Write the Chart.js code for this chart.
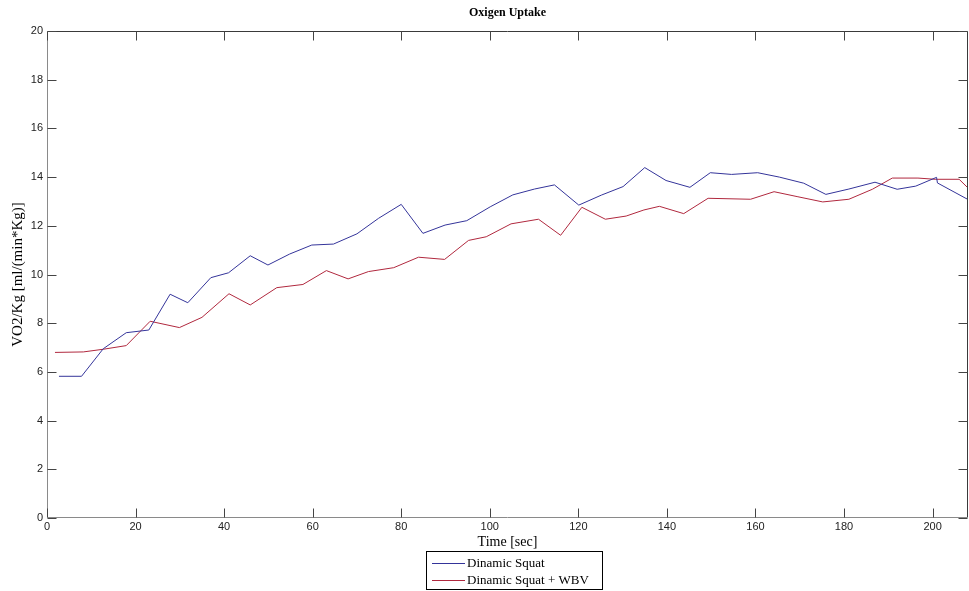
<!DOCTYPE html>
<html>
<head>
<meta charset="utf-8">
<title>Oxigen Uptake</title>
<script src="https://cdn.jsdelivr.net/npm/chart.js@4.4.1/dist/chart.umd.min.js"></script>
<style>
  html, body { margin: 0; padding: 0; background: #fff; }
  canvas { display: block; }
</style>
</head>
<body>
<canvas id="c" width="969" height="591"></canvas>
<script>
// Time [sec] / VO2 per kg samples, one array pair per test condition
const squatTime = [2.7, 7.8, 12.7, 17.9, 23.0, 27.8, 31.8, 37.0, 41.0, 45.9, 49.9, 54.8, 59.8, 64.7, 70.0,
  74.9, 80.0, 84.9, 89.9, 94.8, 100.1, 105.2, 110.1, 114.6, 120.1, 125.2, 130.1, 135.0, 139.8, 145.2,
  149.8, 154.6, 160.5, 165.4, 170.9, 175.9, 181.1, 187.0, 192.0, 196.2, 200.9, 201.1, 208.2];
const squatVO2 = [5.82, 5.82, 6.95, 7.61, 7.72, 9.19, 8.84, 9.87, 10.07, 10.77, 10.39, 10.84, 11.21, 11.25, 11.67,
  12.31, 12.88, 11.69, 12.03, 12.21, 12.78, 13.27, 13.51, 13.68, 12.85, 13.26, 13.61, 14.39, 13.86, 13.58,
  14.18, 14.11, 14.18, 14.00, 13.75, 13.29, 13.51, 13.79, 13.50, 13.63, 13.99, 13.76, 13.06];

const wbvTime = [1.8, 8.2, 12.7, 17.9, 23.3, 29.9, 35.0, 41.1, 45.9, 51.9, 57.8, 63.1, 68.0, 72.6, 78.3,
  83.9, 89.8, 95.2, 99.2, 104.8, 111.0, 116.0, 120.8, 126.1, 130.8, 134.8, 138.3, 143.8, 149.3, 158.9,
  164.2, 169.4, 175.2, 181.1, 186.4, 190.9, 196.7, 200.6, 206.0, 208.3];
const wbvVO2 = [6.80, 6.82, 6.93, 7.08, 8.08, 7.82, 8.24, 9.21, 8.75, 9.46, 9.59, 10.16, 9.82, 10.12, 10.28,
  10.71, 10.62, 11.40, 11.55, 12.08, 12.27, 11.61, 12.76, 12.27, 12.40, 12.65, 12.80, 12.50, 13.13, 13.09,
  13.40, 13.20, 12.98, 13.09, 13.50, 13.96, 13.96, 13.91, 13.91, 13.50];

const seriesNames = ['Dinamic Squat', 'Dinamic Squat + WBV'];
const xTicks = [0, 20, 40, 60, 80, 100, 120, 140, 160, 180, 200];
const yTicks = [0, 2, 4, 6, 8, 10, 12, 14, 16, 18, 20];

const SERIF = '"Liberation Serif", "DejaVu Serif", serif';
const SANS = '"Liberation Sans", Arial, sans-serif';

const toPoints = (xs, ys) => xs.map((x, i) => ({ x: x, y: ys[i] }));

// Box frame with inward tick marks on all four sides
const framePlugin = {
  id: 'frame',
  afterDatasetsDraw(chart) {
    const { ctx, chartArea: a, scales } = chart;
    const L = Math.round(a.left) + 0.5, R = Math.round(a.right) - 0.5;
    const T = Math.round(a.top) + 0.5, B = Math.round(a.bottom) - 0.5;
    const tl = 9;
    ctx.save();
    ctx.lineWidth = 1;
    // top and right edges
    ctx.strokeStyle = '#3a3a3a';
    ctx.beginPath();
    ctx.moveTo(L, T); ctx.lineTo(R, T); ctx.lineTo(R, B);
    ctx.stroke();
    // left and bottom axes
    ctx.strokeStyle = '#8a8a8a';
    ctx.beginPath();
    ctx.moveTo(L, T); ctx.lineTo(L, B); ctx.lineTo(R, B);
    ctx.stroke();
    // tick marks
    ctx.strokeStyle = '#444';
    ctx.beginPath();
    scales.x.ticks.forEach(t => {
      const px = Math.round(scales.x.getPixelForValue(t.value)) + 0.5;
      ctx.moveTo(px, B); ctx.lineTo(px, B - tl);
      ctx.moveTo(px, T); ctx.lineTo(px, T + tl);
    });
    scales.y.ticks.forEach(t => {
      const py = Math.round(scales.y.getPixelForValue(t.value)) + 0.5;
      ctx.moveTo(L, py); ctx.lineTo(L + tl, py);
      ctx.moveTo(R, py); ctx.lineTo(R - tl, py);
    });
    ctx.stroke();
    ctx.restore();
  }
};

// Title, axis titles and boxed legend
const textPlugin = {
  id: 'texts',
  afterDraw(chart) {
    const { ctx, chartArea: a } = chart;
    const cx = (a.left + a.right) / 2;
    ctx.save();
    ctx.fillStyle = '#000';
    ctx.textAlign = 'center';
    ctx.textBaseline = 'middle';
    ctx.font = 'bold 12px ' + SERIF;
    ctx.fillText('Oxigen Uptake', cx, 13);
    ctx.font = '14px ' + SERIF;
    ctx.fillText('Time [sec]', cx, 542);
    ctx.font = '15px ' + SERIF;
    ctx.translate(18, (a.top + a.bottom) / 2);
    ctx.rotate(-Math.PI / 2);
    ctx.fillText('VO2/Kg [ml/(min*Kg)]', 0, 0);
    ctx.restore();

    // legend box
    const bx = 426.5, by = 551.5, bw = 176, bh = 38;
    ctx.save();
    ctx.fillStyle = '#fff';
    ctx.fillRect(bx, by, bw, bh);
    ctx.strokeStyle = '#000';
    ctx.lineWidth = 1;
    ctx.strokeRect(bx, by, bw, bh);
    ctx.font = '13px ' + SERIF;
    ctx.textAlign = 'left';
    ctx.textBaseline = 'middle';
    chart.data.datasets.forEach((ds, i) => {
      const y = 563.5 + i * 17;
      ctx.strokeStyle = ds.borderColor;
      ctx.beginPath();
      ctx.moveTo(432, y); ctx.lineTo(465, y);
      ctx.stroke();
      ctx.fillStyle = '#000';
      ctx.fillText(ds.label, 467, y);
    });
    ctx.restore();
  }
};

new Chart(document.getElementById('c'), {
  type: 'line',
  data: {
    datasets: [
      { label: seriesNames[0], data: toPoints(squatTime, squatVO2), borderColor: '#34349a', borderWidth: 1, pointRadius: 0, tension: 0, fill: false },
      { label: seriesNames[1], data: toPoints(wbvTime, wbvVO2), borderColor: '#b0283e', borderWidth: 1, pointRadius: 0, tension: 0, fill: false }
    ]
  },
  options: {
    responsive: false,
    animation: false,
    devicePixelRatio: 1,
    layout: { padding: { top: 31, right: 1, left: 0, bottom: 0 } },
    plugins: { legend: { display: false }, title: { display: false }, tooltip: { enabled: false } },
    scales: {
      x: {
        type: 'linear', min: 0, max: 208,
        grid: { display: false, drawTicks: false, tickLength: 0 }, border: { display: false },
        afterBuildTicks: s => { s.ticks = xTicks.map(v => ({ value: v })); },
        afterFit: s => { s.height = 73; },
        ticks: { autoSkip: false, maxRotation: 0, padding: 2, color: '#222', font: { family: SANS, size: 11 } }
      },
      y: {
        type: 'linear', min: 0, max: 20,
        grid: { display: false, drawTicks: false, tickLength: 0 }, border: { display: false },
        afterBuildTicks: s => { s.ticks = yTicks.map(v => ({ value: v })); },
        afterFit: s => { s.width = 47; },
        ticks: { autoSkip: false, padding: 4, color: '#222', font: { family: SANS, size: 11 } }
      }
    }
  },
  plugins: [framePlugin, textPlugin]
});
</script>
</body>
</html>
